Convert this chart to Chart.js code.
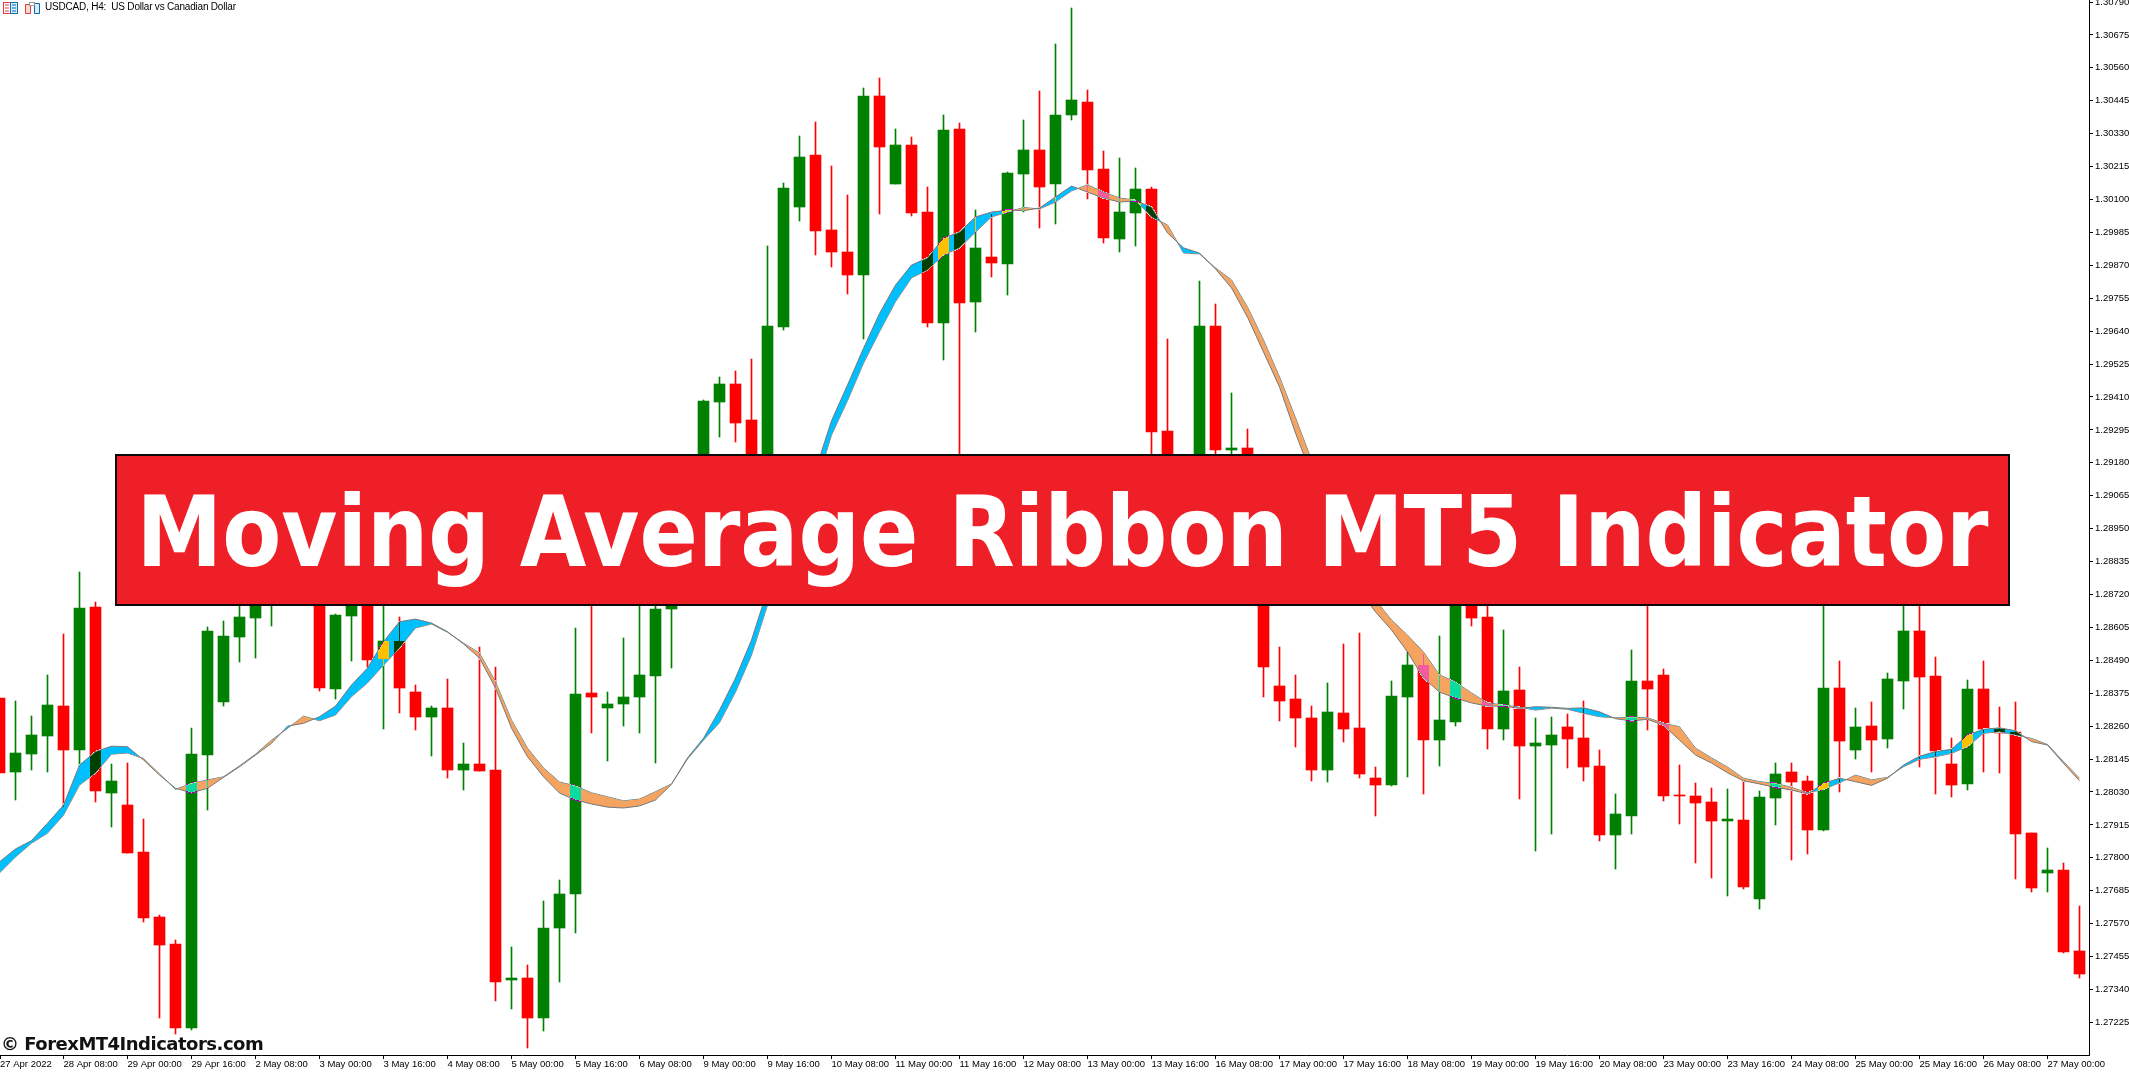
<!DOCTYPE html>
<html>
<head>
<meta charset="utf-8">
<title>Moving Average Ribbon MT5 Indicator</title>
<script src="https://cdn.jsdelivr.net/npm/chart.js@4"></script>
<style>
  html, body { margin: 0; background: #fff; overflow: hidden; }
  #wrap { position: relative; width: 2129px; height: 1073px; }
  canvas { position: absolute; left: 0; top: 0; }
  #banner {
    position: absolute; left: 115px; top: 454px; width: 1891px; height: 148px;
    border: 2px solid #0a0a0a; background: #ee1f27; color: #fff;
    font: bold 97.5px "DejaVu Sans", sans-serif; line-height: 152px; text-align: center; white-space: nowrap; overflow: hidden;
  }
  #banner span { display: block; transform: scaleX(0.883); transform-origin: 50% 50%; margin: 0 -200px; }
  #header { position: absolute; left: 45px; top: 1px; font: 10px "Liberation Sans", sans-serif; letter-spacing: -0.2px; color: #000; white-space: pre; }
  #mark { position: absolute; left: 1px; top: 1033px; font: bold 18px "DejaVu Sans", sans-serif; letter-spacing: -0.5px; color: #111; white-space: nowrap; }
  #icons { position: absolute; left: 3px; top: 2px; }
</style>
</head>
<body>
<div id="wrap">
  <canvas id="chart" width="2129" height="1073"></canvas>
  <svg id="icons" width="38" height="12" viewBox="0 0 38 12">
    <rect x="0.5" y="0.5" width="14" height="11" fill="#fff" stroke="#e23b3b"/>
    <path d="M7.5 .5h7v11h-7z" fill="#d8ecf8" stroke="#0a6ab0"/>
    <path d="M2 3h4M2 6h4M2 9h4" stroke="#e23b3b"/>
    <path d="M9 3h4M9 6h4M9 9h4" stroke="#0a6ab0"/>
    <path d="M22.5 2.5h5v9h-5z" fill="#fbd9d0" stroke="#e23b3b"/>
    <path d="M31.5 1.5h5v10h-5z" fill="#d8ecf8" stroke="#0a6ab0"/>
    <rect x="26.5" y="0.5" width="5" height="3" fill="#fff" stroke="#999"/>
  </svg>
  <div id="header">USDCAD, H4:  US Dollar vs Canadian Dollar</div>
  <div id="mark">© ForexMT4Indicators.com</div>
  <div id="banner"><span>Moving Average Ribbon MT5 Indicator</span></div>
</div>
<script>
const opens = [1.28358,1.28100,1.28162,1.28225,1.28330,1.28176,1.28676,1.28026,1.27984,1.27820,1.27593,1.27499,1.27205,1.28159,1.28344,1.28571,1.28638,1.28718,1.28770,1.28840,1.28753,1.28390,1.28645,1.28735,1.28494,1.28557,1.28379,1.28292,1.28323,1.28107,1.28128,1.28107,1.27373,1.27380,1.27240,1.27555,1.27673,1.28376,1.28323,1.28337,1.28362,1.28435,1.28669,1.28735,1.28805,1.29392,1.29455,1.29330,1.29155,1.29654,1.30074,1.30255,1.29993,1.29916,1.29836,1.30462,1.30154,1.30290,1.30056,1.29668,1.30346,1.29742,1.29899,1.29875,1.30189,1.30273,1.30154,1.30395,1.30441,1.30206,1.29962,1.30053,1.30137,1.29291,1.28945,1.28805,1.29658,1.29225,1.29232,1.29120,1.28400,1.28355,1.28288,1.28107,1.28306,1.28253,1.28079,1.28054,1.28362,1.28473,1.28211,1.28274,1.28840,1.28641,1.28250,1.28386,1.28190,1.28194,1.28257,1.28218,1.28121,1.27880,1.27946,1.28418,1.28439,1.28019,1.28016,1.27995,1.27928,1.27932,1.27656,1.28009,1.28100,1.28068,1.27897,1.28393,1.28176,1.28260,1.28215,1.28418,1.28592,1.28435,1.28128,1.28058,1.28390,1.28250,1.28239,1.27886,1.27747,1.27757,1.27474];
const closes = [1.28096,1.28166,1.28229,1.28334,1.28176,1.28673,1.28033,1.28068,1.27817,1.27590,1.27495,1.27205,1.28162,1.28592,1.28575,1.28641,1.28718,1.28770,1.28840,1.28753,1.28393,1.28648,1.28735,1.28491,1.28557,1.28393,1.28292,1.28323,1.28107,1.28128,1.28103,1.27366,1.27380,1.27240,1.27555,1.27673,1.28372,1.28362,1.28337,1.28362,1.28439,1.28669,1.28735,1.28805,1.29396,1.29455,1.29319,1.29155,1.29658,1.30140,1.30248,1.29990,1.29916,1.29836,1.30462,1.30283,1.30290,1.30053,1.29668,1.30343,1.29738,1.29931,1.29878,1.30192,1.30273,1.30144,1.30395,1.30448,1.30203,1.29965,1.30056,1.30137,1.29288,1.28980,1.28805,1.29658,1.29225,1.29232,1.29120,1.28466,1.28348,1.28288,1.28107,1.28309,1.28250,1.28093,1.28054,1.28365,1.28473,1.28211,1.28281,1.28840,1.28638,1.28250,1.28383,1.28190,1.28201,1.28229,1.28215,1.28117,1.27880,1.27953,1.28418,1.28390,1.28016,1.28016,1.27991,1.27928,1.27935,1.27698,1.28012,1.28093,1.28065,1.27897,1.28393,1.28208,1.28257,1.28211,1.28425,1.28592,1.28432,1.28173,1.28054,1.28390,1.28250,1.28236,1.27883,1.27694,1.27757,1.27471,1.27394];
const highs = [1.28358,1.28348,1.28295,1.28439,1.28582,1.28798,1.28694,1.28128,1.28131,1.27935,1.27600,1.27513,1.28253,1.28606,1.28627,1.28701,1.28770,1.28805,1.28893,1.28875,1.28788,1.28652,1.28788,1.28788,1.28840,1.28641,1.28404,1.28330,1.28425,1.28201,1.28536,1.28466,1.27488,1.27425,1.27649,1.27722,1.28603,1.28788,1.28379,1.28568,1.28735,1.28770,1.28788,1.28875,1.29399,1.29480,1.29501,1.29543,1.29937,1.30158,1.30322,1.30371,1.30217,1.30116,1.30490,1.30524,1.30346,1.30318,1.30144,1.30395,1.30367,1.30063,1.30049,1.30196,1.30378,1.30479,1.30643,1.30769,1.30483,1.30269,1.30245,1.30210,1.30144,1.29612,1.29015,1.29815,1.29735,1.29424,1.29298,1.29155,1.28536,1.28439,1.28330,1.28411,1.28547,1.28585,1.28117,1.28418,1.28519,1.28512,1.28575,1.28910,1.28893,1.28735,1.28596,1.28466,1.28288,1.28292,1.28302,1.28348,1.28176,1.28023,1.28526,1.28840,1.28460,1.28124,1.28061,1.28044,1.28040,1.28072,1.28033,1.28131,1.28131,1.28086,1.28840,1.28487,1.28323,1.28344,1.28446,1.28735,1.28735,1.28501,1.28218,1.28421,1.28487,1.28327,1.28344,1.27886,1.27834,1.27782,1.27631];
const lows = [1.28096,1.28002,1.28107,1.28100,1.27977,1.28124,1.27995,1.27908,1.27817,1.27575,1.27240,1.27184,1.27198,1.27967,1.28330,1.28484,1.28498,1.28610,1.28735,1.28718,1.28383,1.28355,1.28487,1.28466,1.28250,1.28306,1.28246,1.28155,1.28079,1.28037,1.28103,1.27299,1.27272,1.27135,1.27195,1.27366,1.27537,1.28236,1.28138,1.28260,1.28236,1.28131,1.28463,1.28701,1.28735,1.29270,1.29253,1.29120,1.29120,1.29644,1.30025,1.29906,1.29864,1.29770,1.29612,1.30049,1.30154,1.30042,1.29654,1.29539,1.28735,1.29637,1.29829,1.29766,1.30056,1.30000,1.30014,1.30378,1.30102,1.29948,1.29916,1.29937,1.29050,1.28910,1.28735,1.28735,1.29155,1.29050,1.29050,1.28362,1.28278,1.28187,1.28068,1.28065,1.28204,1.28079,1.27946,1.28051,1.28082,1.28023,1.28121,1.28260,1.28610,1.28180,1.28211,1.28005,1.27824,1.27883,1.28114,1.28068,1.27859,1.27761,1.27883,1.28246,1.27998,1.27918,1.27782,1.27729,1.27666,1.27691,1.27621,1.27914,1.27792,1.27813,1.27894,1.28030,1.28145,1.28100,1.28183,1.28320,1.28117,1.28023,1.28012,1.28037,1.28100,1.28096,1.27726,1.27680,1.27680,1.27467,1.27380];
const fastMA = [1.27786,1.27831,1.27860,1.27921,1.27984,1.28124,1.28171,1.28190,1.28188,1.28142,1.28089,1.28043,1.28027,1.28043,1.28081,1.28118,1.28159,1.28200,1.28260,1.28270,1.28293,1.28330,1.28404,1.28463,1.28555,1.28625,1.28634,1.28620,1.28590,1.28547,1.28498,1.28393,1.28253,1.28153,1.28083,1.28026,1.28002,1.27988,1.27977,1.27974,1.27981,1.28002,1.28057,1.28149,1.28218,1.28316,1.28428,1.28561,1.28735,1.28858,1.28998,1.29155,1.29327,1.29452,1.29580,1.29702,1.29801,1.29871,1.29896,1.29965,1.29986,1.30039,1.30056,1.30063,1.30061,1.30070,1.30109,1.30147,1.30126,1.30105,1.30091,1.30095,1.30074,1.29983,1.29931,1.29913,1.29857,1.29791,1.29689,1.29567,1.29445,1.29284,1.29137,1.28980,1.28858,1.28735,1.28659,1.28596,1.28519,1.28428,1.28379,1.28358,1.28341,1.28330,1.28330,1.28322,1.28328,1.28326,1.28322,1.28324,1.28310,1.28286,1.28278,1.28284,1.28263,1.28211,1.28159,1.28131,1.28097,1.28069,1.28058,1.28046,1.28037,1.28023,1.28060,1.28078,1.28066,1.28053,1.28078,1.28124,1.28155,1.28171,1.28179,1.28229,1.28249,1.28254,1.28244,1.28206,1.28194,1.28130,1.28069];
const slowMA = [1.27747,1.27803,1.27851,1.27886,1.27949,1.28054,1.28096,1.28162,1.28166,1.28147,1.28093,1.28039,1.28060,1.28072,1.28083,1.28121,1.28162,1.28211,1.28252,1.28295,1.28279,1.28299,1.28363,1.28411,1.28473,1.28533,1.28603,1.28617,1.28588,1.28550,1.28515,1.28415,1.28281,1.28183,1.28114,1.28065,1.28051,1.28027,1.28013,1.27999,1.28005,1.28031,1.28058,1.28145,1.28211,1.28272,1.28379,1.28508,1.28683,1.28805,1.28945,1.29095,1.29277,1.29397,1.29528,1.29638,1.29743,1.29826,1.29854,1.29906,1.29931,1.29986,1.30039,1.30056,1.30072,1.30067,1.30091,1.30130,1.30151,1.30126,1.30105,1.30098,1.30039,1.30011,1.29913,1.29910,1.29861,1.29819,1.29724,1.29609,1.29480,1.29337,1.29190,1.29033,1.28910,1.28788,1.28701,1.28631,1.28578,1.28519,1.28439,1.28414,1.28376,1.28341,1.28334,1.28326,1.28316,1.28323,1.28319,1.28305,1.28293,1.28289,1.28291,1.28289,1.28270,1.28258,1.28183,1.28149,1.28117,1.28078,1.28066,1.28060,1.28046,1.28027,1.28039,1.28062,1.28089,1.28072,1.28081,1.28118,1.28144,1.28153,1.28165,1.28188,1.28235,1.28240,1.28229,1.28217,1.28196,1.28136,1.28078];

const xTickLabels = ['27 Apr 2022','28 Apr 08:00','29 Apr 00:00','29 Apr 16:00','2 May 08:00','3 May 00:00','3 May 16:00','4 May 08:00','5 May 00:00','5 May 16:00','6 May 08:00','9 May 00:00','9 May 16:00','10 May 08:00','11 May 00:00','11 May 16:00','12 May 08:00','13 May 00:00','13 May 16:00','16 May 08:00','17 May 00:00','17 May 16:00','18 May 08:00','19 May 00:00','19 May 16:00','20 May 08:00','23 May 00:00','23 May 16:00','24 May 08:00','25 May 00:00','25 May 16:00','26 May 08:00','27 May 00:00'];
const yTicks = [1.30790,1.30675,1.30560,1.30445,1.30330,1.30215,1.30100,1.29985,1.29870,1.29755,1.29640,1.29525,1.29410,1.29295,1.29180,1.29065,1.28950,1.28835,1.28720,1.28605,1.28490,1.28375,1.28260,1.28145,1.28030,1.27915,1.27800,1.27685,1.27570,1.27455,1.27340,1.27225];

const AXIS_FONT = { family: '"Liberation Sans", sans-serif', size: 9.5 };
const UP = [0, 128, 0], DOWN = [255, 0, 0];
const isUp = i => closes[i] >= opens[i];
const barColours = opens.map((_, i) => `rgb(${(isUp(i) ? UP : DOWN).join(',')})`);

// MT5 draws the filling in xor mode, so candles flip the ribbon colours
function xorRect(ctx, left, top, w, h, rgb) {
    if (w <= 0 || h <= 0) return;
    const img = ctx.getImageData(left, top, w, h);
    const d = img.data;
    for (let p = 0; p < d.length; p += 4) {
        const near = Math.abs(d[p] - rgb[0]) + Math.abs(d[p + 1] - rgb[1]) + Math.abs(d[p + 2] - rgb[2]);
        if (near < 40) continue;
        d[p] = d[p] ^ rgb[0] ^ 255;
        d[p + 1] = d[p + 1] ^ rgb[1] ^ 255;
        d[p + 2] = d[p + 2] ^ rgb[2] ^ 255;
    }
    ctx.putImageData(img, left, top);
}

const candlePlugin = {
    id: 'candlePlugin',
    afterDatasetsUpdate(chart) {
        // snap bars to whole pixels, thin bodies stay one pixel high
        [0, 1].forEach(d => chart.getDatasetMeta(d).data.forEach(el => {
            el.y = Math.round(el.y);
            el.base = Math.round(el.base);
            if (el.y === el.base) el.base = el.y + 1;
        }));
    },
    afterDatasetsDraw(chart) {
        const ctx = chart.ctx;
        const bodies = chart.getDatasetMeta(0).data;
        const wicks = chart.getDatasetMeta(1).data;
        bodies.forEach((el, i) => {
            const rgb = isUp(i) ? UP : DOWN;
            const top = Math.min(el.y, el.base), bottom = Math.max(el.y, el.base);
            const wTop = Math.min(wicks[i].y, wicks[i].base), wBottom = Math.max(wicks[i].y, wicks[i].base);
            const left = Math.round(el.x - 5.5);
            const clip = Math.max(left, 0);
            xorRect(ctx, clip, top, left + 11 - clip, bottom - top, rgb);
            const wx = Math.round(el.x - 0.5);
            if (wx < 0) return;
            xorRect(ctx, wx, wTop, 1, top - wTop, rgb);
            xorRect(ctx, wx, bottom, 1, wBottom - bottom, rgb);
        });
    }
};

const xMin = 0.03125, xMax = 130.59375;

new Chart(document.getElementById('chart').getContext('2d'), {
    type: 'bar',
    plugins: [candlePlugin],
    data: {
        datasets: [
            {
                label: 'Body',
                data: opens.map((o, i) => ({ x: i, y: [o, closes[i]] })),
                backgroundColor: barColours,
                barThickness: 11,
                borderWidth: 0,
                grouped: false,
                order: 3
            },
            {
                label: 'Wick',
                data: lows.map((l, i) => ({ x: i, y: [l, highs[i]] })),
                backgroundColor: barColours,
                barThickness: 1,
                borderWidth: 0,
                grouped: false,
                order: 4
            },
            {
                type: 'line',
                label: 'Fast MA',
                data: fastMA.map((v, i) => ({ x: i, y: v })),
                borderColor: '#787878',
                borderWidth: 1,
                pointRadius: 0,
                tension: 0,
                fill: { target: '+1', above: '#00bfff', below: '#f4a460' },
                order: 1
            },
            {
                type: 'line',
                label: 'Slow MA',
                data: slowMA.map((v, i) => ({ x: i, y: v })),
                borderColor: '#787878',
                borderWidth: 1,
                pointRadius: 0,
                tension: 0,
                fill: false,
                order: 2
            }
        ]
    },
    options: {
        responsive: false,
        animation: false,
        devicePixelRatio: 1,
        events: [],
        layout: { padding: 0 },
        plugins: { legend: { display: false }, tooltip: { enabled: false }, title: { display: false } },
        scales: {
            x: {
                type: 'linear',
                min: xMin,
                max: xMax,
                offset: false,
                grid: { offset: false, drawOnChartArea: false, color: '#000', tickLength: 4 },
                border: { color: '#000', width: 1 },
                afterBuildTicks: scale => {
                    scale.ticks = xTickLabels.map((_, k) => ({ value: Math.max(k * 4, xMin) }));
                },
                afterFit: scale => {
                    scale.height = 18;
                    scale.paddingLeft = 0;
                    scale.paddingRight = 0;
                },
                ticks: {
                    autoSkip: false,
                    maxRotation: 0,
                    minRotation: 0,
                    align: 'start',
                    padding: 0,
                    color: '#000',
                    font: AXIS_FONT,
                    callback: (value, index) => xTickLabels[index]
                }
            },
            y: {
                type: 'linear',
                position: 'right',
                min: 1.27111,
                max: 1.30797,
                grid: { drawOnChartArea: false, color: '#000', tickLength: 4 },
                border: { color: '#000', width: 1 },
                afterBuildTicks: scale => {
                    scale.ticks = yTicks.map(value => ({ value }));
                },
                afterFit: scale => {
                    scale.width = 40;
                    scale.paddingTop = 0;
                    scale.paddingBottom = 0;
                },
                ticks: {
                    autoSkip: false,
                    padding: 2,
                    color: '#000',
                    font: AXIS_FONT,
                    callback: value => value.toFixed(5)
                }
            }
        }
    }
});
</script>
</body>
</html>
